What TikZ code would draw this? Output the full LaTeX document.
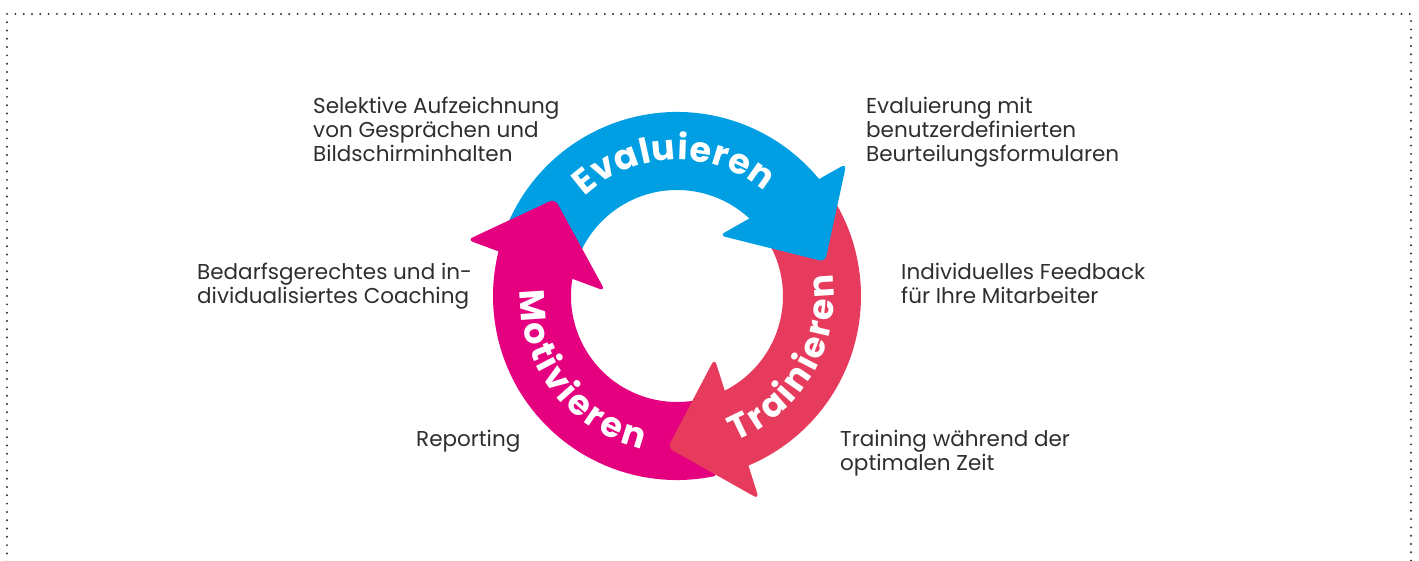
\documentclass[tikz,border=0pt]{standalone}
\usepackage{fontspec}
\setmainfont{Poppins}
\usepackage{tikz}
\usetikzlibrary{decorations.text}

\definecolor{evalblue}{HTML}{009FE3}
\definecolor{trainred}{HTML}{E73B5E}
\definecolor{motivpink}{HTML}{E4007E}
\definecolor{infogray}{HTML}{2E2E2E}
\newcommand{\arclabel}{\fontsize{35}{40}\selectfont\bfseries}

\begin{document}
\begin{tikzpicture}[x=1pt, y=1pt,
    info/.style={anchor=north west, inner sep=0pt, align=left, text=infogray,
        font=\fontsize{21.5}{24}\selectfont},
    arctext/.style={decorate, decoration={text along path, text align={fit to path}, text color=white}}]
    \useasboundingbox (0, 0) rectangle (1419, 560);

    \draw[infogray, line width=2.2pt, line cap=round, dash pattern=on 0pt off 8.3pt]
    (7, -10) -- (7, 546) -- (1411, 546) -- (1411, -10);

    \begin{scope}[shift={(677, 264)}]
        % ring parts
        \fill[evalblue] (160:184) arc[start angle=160, end angle=36, radius=184]
        -- (36:106) arc[start angle=36, end angle=160, radius=106] -- cycle;
        \fill[trainred] (33:184) arc[start angle=33, end angle=-69, radius=184]
        -- (-69:106) arc[start angle=-69, end angle=33, radius=106] -- cycle;
        \fill[motivpink] (-78:184) arc[start angle=-78, end angle=-196, radius=184]
        -- (-196:106) arc[start angle=-196, end angle=-78, radius=106] -- cycle;

        % heads
        \fill[evalblue, rounded corners=6pt] (38:215) -- (13:152) -- (55:74) -- cycle;
        \fill[trainred, rounded corners=6pt] (-68:219) -- (-93.5:152) -- (-59:73) -- cycle;
        \fill[motivpink, rounded corners=6pt] (165:217) -- (141.5:156) -- (176:72) -- cycle;

        % labels on the ring
        \path[arctext, decoration={text={|\arclabel|Evaluieren}}]
        (133:136) arc[start angle=133, end angle=50, radius=136];
        \path[arctext, decoration={text={|\arclabel|Trainieren}}]
        (-68:157) arc[start angle=-68, end angle=8, radius=157];
        \path[arctext, decoration={text={|\arclabel|Motivieren}}]
        (178:157) arc[start angle=178, end angle=257, radius=157];
    \end{scope}

    \node[info] (aufzeichnung) at (313, 463) {Selektive Aufzeichnung\\von Gesprächen und\\Bildschirminhalten};
    \node[info] (formulare) at (866, 463) {Evaluierung mit\\benutzerdefinierten\\Beurteilungsformularen};
    \node[info] (coaching) at (197, 297) {Bedarfsgerechtes und in-\\dividualisiertes Coaching};
    \node[info] (feedback) at (901, 297) {Individuelles Feedback\\für Ihre Mitarbeiter};
    \node[info] (reporting) at (416, 130) {Reporting};
    \node[info] (training) at (840, 130) {Training während der\\optimalen Zeit};
\end{tikzpicture}
\end{document}
